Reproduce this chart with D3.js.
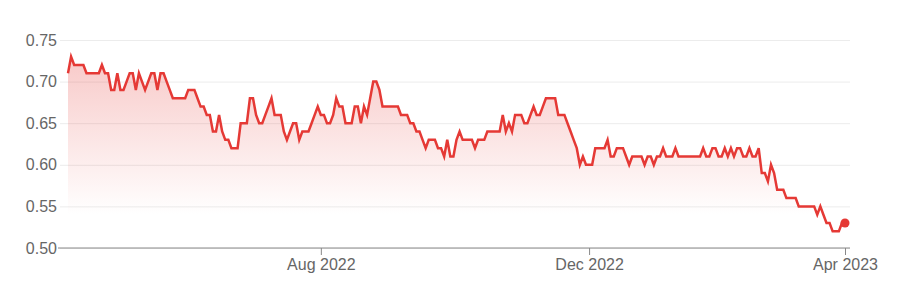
<!DOCTYPE html>
<html>
<head>
<meta charset="utf-8">
<script src="https://cdn.jsdelivr.net/npm/d3@7"></script>
<style>
  body { margin: 0; background: #fff; }
  #chartArea text { font-family: "Liberation Sans", Arial, sans-serif; }
</style>
</head>
<body>
<div id="chartArea"></div>
<script>
// trading calendar: first and last day shown, market holidays in between
var startDay = "2022-04-01";
var endDay = "2023-04-03";
var holidays = ["2022-04-15", "2022-04-18", "2022-04-25", "2022-06-13", "2022-09-22",
  "2022-12-26", "2022-12-27", "2023-01-02", "2023-01-26"];

// closing price, one per trading day
var prices = [
  0.71, 0.73, 0.72, 0.72, 0.72, 0.72, 0.71, 0.71, 0.71, 0.71,
  0.71, 0.72, 0.71, 0.71, 0.69, 0.69, 0.71, 0.69, 0.69, 0.70,
  0.71, 0.71, 0.69, 0.71, 0.70, 0.69, 0.70, 0.71, 0.71, 0.69,
  0.71, 0.71, 0.70, 0.69, 0.68, 0.68, 0.68, 0.68, 0.68, 0.69,
  0.69, 0.69, 0.68, 0.67, 0.67, 0.66, 0.66, 0.64, 0.64, 0.66,
  0.64, 0.63, 0.63, 0.62, 0.62, 0.62, 0.65, 0.65, 0.65, 0.68,
  0.68, 0.66, 0.65, 0.65, 0.66, 0.67, 0.68, 0.66, 0.66, 0.66,
  0.64, 0.63, 0.64, 0.65, 0.65, 0.63, 0.64, 0.64, 0.64, 0.65,
  0.66, 0.67, 0.66, 0.66, 0.65, 0.65, 0.66, 0.68, 0.67, 0.67,
  0.65, 0.65, 0.65, 0.67, 0.67, 0.65, 0.67, 0.66, 0.68, 0.70,
  0.70, 0.69, 0.67, 0.67, 0.67, 0.67, 0.67, 0.67, 0.66, 0.66,
  0.66, 0.65, 0.65, 0.64, 0.64, 0.63, 0.62, 0.63, 0.63, 0.63,
  0.62, 0.62, 0.61, 0.63, 0.61, 0.61, 0.63, 0.64, 0.63, 0.63,
  0.63, 0.63, 0.62, 0.63, 0.63, 0.63, 0.64, 0.64, 0.64, 0.64,
  0.64, 0.66, 0.64, 0.65, 0.64, 0.66, 0.66, 0.66, 0.65, 0.65,
  0.66, 0.67, 0.66, 0.66, 0.67, 0.68, 0.68, 0.68, 0.68, 0.66,
  0.66, 0.66, 0.65, 0.64, 0.63, 0.62, 0.60, 0.61, 0.60, 0.60,
  0.60, 0.62, 0.62, 0.62, 0.62, 0.63, 0.61, 0.61, 0.62, 0.62,
  0.62, 0.61, 0.60, 0.61, 0.61, 0.61, 0.61, 0.60, 0.61, 0.61,
  0.60, 0.61, 0.61, 0.62, 0.61, 0.61, 0.61, 0.62, 0.61, 0.61,
  0.61, 0.61, 0.61, 0.61, 0.61, 0.61, 0.62, 0.61, 0.61, 0.62,
  0.62, 0.61, 0.61, 0.62, 0.61, 0.62, 0.61, 0.62, 0.62, 0.61,
  0.61, 0.62, 0.61, 0.61, 0.62, 0.59, 0.59, 0.58, 0.60, 0.59,
  0.57, 0.57, 0.57, 0.56, 0.56, 0.56, 0.56, 0.55, 0.55, 0.55,
  0.55, 0.55, 0.55, 0.54, 0.55, 0.54, 0.53, 0.53, 0.52, 0.52,
  0.52, 0.53, 0.53
];

var yTicks = [0.50, 0.55, 0.60, 0.65, 0.70, 0.75];
var xTickMonths = ["2022-08", "2022-12", "2023-04"];

var lineColor = "#e53935";

function tradingDays(from, to, skip) {
  var parse = d3.utcParse("%Y-%m-%d");
  var fmt = d3.utcFormat("%Y-%m-%d");
  var days = d3.utcDays(parse(from), d3.utcDay.offset(parse(to), 1));
  return days.filter(function (d) {
    var wd = d.getUTCDay();
    return wd !== 0 && wd !== 6 && skip.indexOf(fmt(d)) < 0;
  });
}

function drawChart() {
  var margin = { top: 40, right: 54, bottom: 40, left: 60 },
    width = 904 - margin.left - margin.right,
    height = 288 - margin.top - margin.bottom;

  var days = tradingDays(startDay, endDay, holidays);
  var data = prices.map(function (p, i) {
    return { i: i, date: days[i], price: p };
  });

  // x runs on trading-day index, so weekends and holidays take no room
  var x = d3.scaleLinear().domain([0, data.length - 1]).range([8, width - 5]);
  var y = d3.scaleLinear().domain([0.5, 0.75]).range([height, 0]);

  var monthFmt = d3.utcFormat("%Y-%m");
  var tickIdx = xTickMonths.map(function (m) {
    return data.findIndex(function (d) { return monthFmt(d.date) === m; });
  });

  var svg = d3.select("#chartArea").append("svg")
    .attr("width", 904)
    .attr("height", 288);

  var grad = svg.append("defs").append("linearGradient")
    .attr("id", "fade")
    .attr("gradientUnits", "userSpaceOnUse")
    .attr("x1", 0).attr("x2", 0)
    .attr("y1", y(0.75)).attr("y2", y(0.54));
  grad.append("stop").attr("offset", "0%").attr("stop-color", lineColor).attr("stop-opacity", 0.3);
  grad.append("stop").attr("offset", "100%").attr("stop-color", lineColor).attr("stop-opacity", 0);

  var g = svg.append("g")
    .attr("transform", "translate(" + margin.left + "," + margin.top + ")");

  // y axis with grid lines
  var yAxis = d3.axisLeft(y)
    .tickValues(yTicks)
    .tickFormat(d3.format(".2f"))
    .tickSize(-width)
    .tickPadding(3);
  var yg = g.append("g").attr("class", "axis axis--y").call(yAxis);
  yg.select(".domain").remove();
  yg.selectAll(".tick line").attr("stroke", "#ececec");
  yg.selectAll(".tick text").attr("fill", "#666").style("font-size", "16px");

  // area + line
  var area = d3.area()
    .x(function (d) { return x(d.i); })
    .y0(height)
    .y1(function (d) { return y(d.price); });
  var line = d3.line()
    .x(function (d) { return x(d.i); })
    .y(function (d) { return y(d.price); });

  g.append("path").datum(data)
    .attr("d", area)
    .attr("fill", "url(#fade)");

  // x axis
  var xAxis = d3.axisBottom(x)
    .tickValues(tickIdx)
    .tickFormat(function (i) { return d3.utcFormat("%b %Y")(data[i].date); })
    .tickSize(7)
    .tickPadding(4);
  var xg = g.append("g").attr("class", "axis axis--x")
    .attr("transform", "translate(0," + height + ")")
    .call(xAxis);
  xg.select(".domain").remove();
  xg.selectAll(".tick line").attr("stroke", "#888");
  xg.selectAll(".tick text").attr("fill", "#666").style("font-size", "16px");
  xg.append("line")
    .attr("x1", -2).attr("x2", width)
    .attr("stroke", "#888");

  g.append("path").datum(data)
    .attr("d", line)
    .attr("fill", "none")
    .attr("stroke", lineColor)
    .attr("stroke-width", 2.5);

  var last = data[data.length - 1];
  g.append("circle")
    .attr("cx", x(last.i))
    .attr("cy", y(last.price))
    .attr("r", 4.5)
    .attr("fill", lineColor);
}

drawChart();
</script>
</body>
</html>
